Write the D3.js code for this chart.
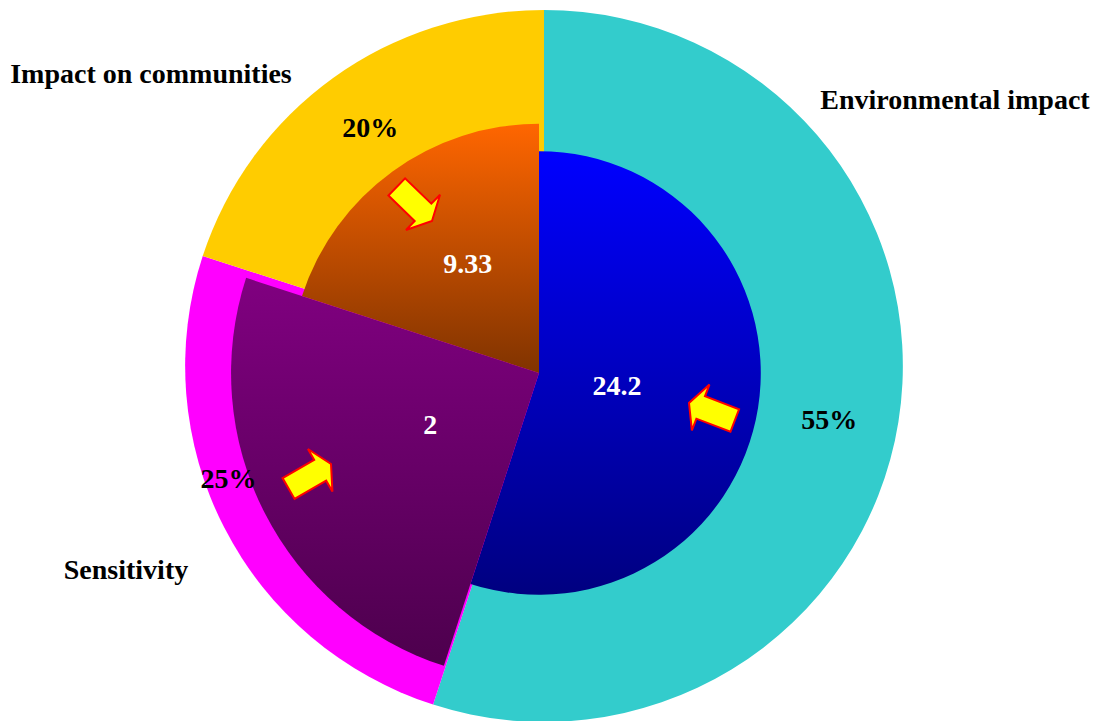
<!DOCTYPE html>
<html>
<head>
<meta charset="utf-8">
<script src="https://cdn.jsdelivr.net/npm/d3@7"></script>
<style>
  html, body { margin: 0; padding: 0; background: #ffffff; }
  svg { display: block; }
  text { font-family: "Liberation Serif", "Times New Roman", serif; font-weight: bold; }
</style>
</head>
<body>
<script>
// ---- data ----
const categories = ["Environmental impact", "Sensitivity", "Impact on communities"];
const sharePct = [55, 25, 20];
const innerValues = [24.2, 2, 9.33];
const innerValueLabels = ["24.2", "2", "9.33"];
const innerRadiusPct = [62.3, 86.5, 70];   // inner slice radius as % of outer radius
const outerColors = ["#33CCCC", "#FF00FF", "#FFCC00"];
const innerGradients = [["#0000FF", "#000080"], ["#800080", "#4D004D"], ["#FF6600", "#803300"]];

// ---- layout ----
const W = 1096, H = 721;
const outerCenter = [544, 366], outerR = 356, outerStretchX = 1.008;
const innerCenter = [539, 373];
// percentage label placement (distance as fraction of outer radius, angle offset in degrees)
const pctLabelPos = [{ k: 0.815, da: 1.5 }, { k: 0.94, da: 7.5 }, { k: 0.83, da: 0 }];
// inner value label placement (distance in px from inner center, angle offset in degrees)
const valLabelPos = [{ d: 79, da: 0 }, { d: 120, da: 2 }, { d: 131, da: 3 }];
const catLabelPos = [[955, 109], [126, 579], [151, 83]];
const arrows = [
  { tip: [689, 403], rot: 201 },
  { tip: [331, 464], rot: -30 },
  { tip: [432, 221], rot: 44 }
];

const svg = d3.select("body").append("svg").attr("width", W).attr("height", H);
const defs = svg.append("defs");
innerGradients.forEach((g, i) => {
  const lg = defs.append("linearGradient").attr("id", "ig" + i)
    .attr("x1", 0).attr("y1", 0).attr("x2", 0).attr("y2", 1);
  lg.append("stop").attr("offset", "0%").attr("stop-color", g[0]);
  lg.append("stop").attr("offset", "100%").attr("stop-color", g[1]);
});

const pie = d3.pie().sort(null).value(d => d);
const outerArcs = pie(sharePct);
const innerArcs = pie(sharePct).map((a, i) => Object.assign({}, a, { value: innerValues[i] }));

const rScale = d3.scaleLinear().domain([0, 100]).range([0, outerR]);

// outer ring (full pie)
const gOuter = svg.append("g")
  .attr("transform", `translate(${outerCenter[0]},${outerCenter[1]}) scale(${outerStretchX},1)`);
const outerArc = d3.arc().innerRadius(0).outerRadius(outerR);
gOuter.selectAll("path").data(outerArcs).join("path")
  .attr("d", outerArc)
  .attr("fill", (d, i) => outerColors[i]);

// inner variable-radius slices
const gInner = svg.append("g").attr("transform", `translate(${innerCenter[0]},${innerCenter[1]})`);
gInner.selectAll("path").data(innerArcs).join("path")
  .attr("d", (d, i) => d3.arc().innerRadius(0).outerRadius(rScale(innerRadiusPct[i]))(d))
  .attr("fill", (d, i) => `url(#ig${i})`);

function polar(cx, cy, angle, r) {
  return [cx + r * Math.sin(angle), cy - r * Math.cos(angle)];
}

// percentage labels
outerArcs.forEach((a, i) => {
  const mid = (a.startAngle + a.endAngle) / 2 + pctLabelPos[i].da * Math.PI / 180;
  const p = polar(outerCenter[0], outerCenter[1], mid, outerR * pctLabelPos[i].k);
  svg.append("text").attr("x", p[0]).attr("y", p[1])
    .attr("text-anchor", "middle").attr("dy", "0.35em")
    .attr("font-size", 28).attr("fill", "#000000")
    .text(sharePct[i] + "%");
});

// inner value labels
innerArcs.forEach((a, i) => {
  const mid = (a.startAngle + a.endAngle) / 2 + valLabelPos[i].da * Math.PI / 180;
  const p = polar(innerCenter[0], innerCenter[1], mid, valLabelPos[i].d);
  svg.append("text").attr("x", p[0]).attr("y", p[1])
    .attr("text-anchor", "middle").attr("dy", "0.35em")
    .attr("font-size", 28).attr("fill", "#FFFFFF")
    .text(innerValueLabels[i]);
});

// category labels
categories.forEach((c, i) => {
  svg.append("text").attr("x", catLabelPos[i][0]).attr("y", catLabelPos[i][1])
    .attr("text-anchor", "middle")
    .attr("font-size", 28).attr("fill", "#000000")
    .text(c);
});

// block arrows (tip at origin, pointing +x)
const arrowShape = [[0, 0], [-12.5, -24.5], [-12.5, -12], [-49, -12], [-49, 12], [-12.5, 12], [-12.5, 24.5]];
const arrowPath = d3.line()(arrowShape) + "Z";
arrows.forEach(a => {
  svg.append("path").attr("d", arrowPath)
    .attr("transform", `translate(${a.tip[0]},${a.tip[1]}) rotate(${a.rot})`)
    .attr("fill", "#FFFF00").attr("stroke", "#FF0000").attr("stroke-width", 2)
    .attr("stroke-linejoin", "miter");
});
</script>
</body>
</html>
